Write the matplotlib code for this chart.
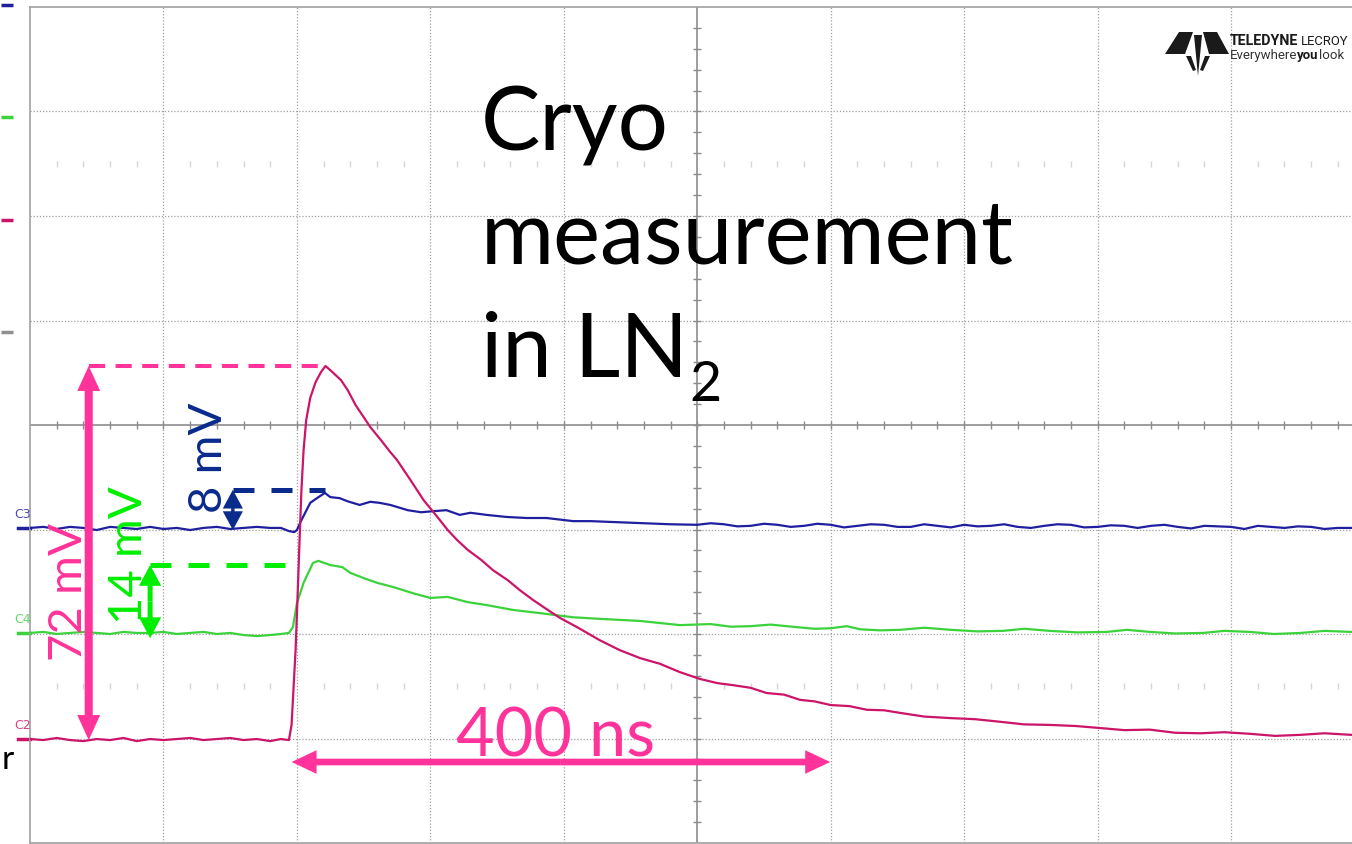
import numpy as np
import matplotlib
matplotlib.use('Agg')
import matplotlib.pyplot as plt
from matplotlib.patches import FancyArrowPatch, Polygon

plt.rcParams['font.family'] = ['Lato', 'DejaVu Sans']

# Scope screen: 100 ns/div, 20 mV/div, centre of screen = (0 ns, 0 mV)
t_left, t_right = -500, 490.6
v_min, v_max = -80, 80
t_grid = [-400, -300, -200, -100, 100, 200, 300, 400]
v_grid = [-60, -40, -20, 20, 40, 60]

# C3 (blue) trace, (ns, mV)
c3 = [(-500, -19.7), (-490, -19.5), (-480, -19.9), (-470, -19.5), (-460, -19.7),
      (-450, -20.1), (-440, -19.5), (-430, -19.7), (-420, -19.9), (-410, -19.5),
      (-400, -19.9), (-390, -19.7), (-380, -20.1), (-370, -19.7), (-360, -19.5),
      (-350, -19.9), (-340, -19.7), (-330, -19.5), (-320, -19.7), (-312, -19.7),
      (-306, -20.3), (-302, -20.5), (-300, -20.1), (-297, -18.4), (-290, -14.9),
      (-285, -14.0), (-279, -13.0), (-275, -13.8), (-268, -14.0), (-262, -14.6),
      (-253, -15.3), (-245, -14.7), (-238, -14.9), (-230, -15.3), (-217, -16.3),
      (-207, -16.7), (-198, -16.5), (-188, -16.3), (-178, -17.2), (-170, -16.8),
      (-158, -17.2), (-143, -17.6), (-128, -17.8), (-113, -17.8), (-93, -18.4),
      (-80, -18.4), (-60, -18.6), (-40, -18.8), (-20, -19.0), (0, -19.1),
      (10, -18.8), (20, -19.0), (30, -19.4), (40, -19.3), (50, -18.9),
      (60, -19.1), (70, -19.5), (80, -19.3), (90, -18.9), (100, -19.1),
      (110, -19.6), (120, -19.3), (130, -19.0), (140, -19.1), (150, -19.5),
      (160, -19.5), (170, -19.0), (180, -19.3), (190, -19.6), (200, -19.1),
      (210, -19.4), (220, -19.3), (230, -19.0), (240, -19.5), (250, -19.7),
      (260, -19.3), (270, -19.0), (280, -19.1), (290, -19.6), (300, -19.5),
      (310, -19.2), (320, -19.3), (330, -19.7), (340, -19.3), (350, -19.1),
      (360, -19.5), (370, -19.8), (380, -19.3), (390, -19.4), (400, -19.5),
      (410, -19.9), (420, -19.3), (430, -19.5), (440, -19.7), (450, -19.4),
      (460, -19.5), (470, -19.9), (480, -19.7), (490, -19.7)]

# C4 (green) trace
c4 = [(-500, -39.8), (-490, -39.6), (-480, -40.0), (-470, -39.8), (-460, -39.6),
      (-450, -39.8), (-440, -40.0), (-430, -39.6), (-420, -39.8), (-410, -39.8),
      (-400, -39.6), (-390, -40.0), (-380, -39.8), (-370, -39.6), (-360, -40.0),
      (-350, -39.8), (-340, -40.2), (-330, -40.4), (-320, -40.2), (-312, -40.0),
      (-306, -39.8), (-303, -38.7), (-300, -34.1), (-295, -30.2), (-288, -26.4),
      (-284, -26.0), (-275, -26.8), (-266, -27.2), (-260, -28.3), (-250, -29.3),
      (-240, -30.2), (-228, -31.0), (-213, -32.2), (-200, -33.1), (-187, -32.9),
      (-172, -33.9), (-157, -34.5), (-138, -35.4), (-118, -36.0), (-93, -36.8),
      (-73, -37.1), (-43, -37.5), (-13, -38.3), (10, -38.1), (25, -38.6),
      (40, -38.5), (55, -38.2), (75, -38.7), (88, -39.0), (100, -38.9),
      (112, -38.5), (122, -39.1), (137, -39.3), (152, -39.2), (170, -38.8),
      (190, -39.2), (210, -39.5), (229, -39.4), (245, -39.0), (264, -39.4),
      (285, -39.7), (307, -39.6), (322, -39.2), (339, -39.6), (358, -39.9),
      (379, -39.8), (395, -39.4), (414, -39.6), (432, -40.0), (452, -39.8),
      (470, -39.4), (490, -39.6)]

# C2 (magenta) trace
c2 = [(-500, -60.1), (-490, -60.3), (-480, -59.9), (-470, -60.3), (-460, -60.5),
      (-450, -60.1), (-440, -60.3), (-430, -59.9), (-420, -60.5), (-410, -60.1),
      (-400, -60.3), (-390, -60.1), (-380, -59.9), (-370, -60.3), (-360, -60.1),
      (-350, -59.9), (-340, -60.3), (-330, -60.1), (-320, -60.5), (-312, -60.1),
      (-306, -60.3), (-304, -57.4), (-302.6, -50.7), (-301, -43.1), (-299.6, -33.5),
      (-298, -22.0), (-296.6, -12.4), (-295, -4.8), (-293, 1.0), (-290, 5.2),
      (-286, 8.2), (-282, 10.1), (-278.6, 11.3), (-275, 10.5), (-267, 8.6),
      (-262, 6.7), (-256, 3.8), (-251, 1.9), (-245, -0.4), (-237, -2.9),
      (-230, -5.2), (-225, -6.7), (-215, -10.5), (-205, -14.4), (-196, -17.2),
      (-187, -20.1), (-180, -22.0), (-172, -23.9), (-162, -25.8), (-153, -27.8),
      (-142, -29.7), (-133, -31.6), (-123, -33.5), (-112, -35.4), (-103, -36.9),
      (-90, -38.7), (-73, -41.2), (-58, -43.1), (-43, -44.6), (-28, -45.7),
      (-13, -47.3), (2, -48.6), (15, -49.4), (27, -49.8), (40, -50.3),
      (52, -51.3), (65, -51.6), (77, -52.6), (88, -52.9), (100, -53.6),
      (114, -53.8), (127, -54.5), (140, -54.6), (152, -55.1), (170, -55.8),
      (190, -56.1), (208, -56.3), (227, -56.8), (245, -57.3), (264, -57.4),
      (283, -57.6), (302, -58.0), (320, -58.4), (339, -58.3), (358, -58.9),
      (377, -59.0), (395, -58.8), (414, -59.1), (433, -59.5), (452, -59.3),
      (470, -59.0), (490, -59.3)]

# annotations: (arrow time, base mV, peak mV, dash end time)
amp_c2 = (-456, -60.3, 11.3, -279)
amp_c4 = (-410, -40.8, -26.8, -296)
amp_c3 = (-348, -20.1, -12.4, -279)
width_arrow = (-304, 99.6, -64.5)

col_c3, col_c4, col_c2 = '#1f1fa0', '#3cd23c', '#cc1468'
pink, lime, navy = '#ff3399', '#00ee00', '#0a2a8c'
grid_col = '#a0a0a0'

fig = plt.figure(figsize=(13.52, 8.44), dpi=100)
ax = fig.add_axes([30 / 1352, 1 / 844, 1322 / 1352, 836 / 844])
ax.set_xlim(t_left, t_right)
ax.set_ylim(v_min, v_max)
ax.set_xticks([])
ax.set_yticks([])
for s in ['left', 'top', 'bottom']:
    ax.spines[s].set_color(grid_col)
    ax.spines[s].set_linewidth(1.2)
ax.spines['right'].set_visible(False)

# graticule
for t in t_grid:
    ax.axvline(t, color=grid_col, lw=0.9, ls=(0, (1, 1.5)), zorder=0)
for v in v_grid:
    ax.axhline(v, color=grid_col, lw=0.9, ls=(0, (1, 1.5)), zorder=0)
ax.axhline(0, color='#8c8c8c', lw=1.2, zorder=0)
ax.axvline(0, color='#8c8c8c', lw=1.2, zorder=0)
tt = np.arange(-480, 490, 20)
ax.vlines(tt, -0.8, 0.8, color='#8c8c8c', lw=1.0, zorder=0)
vv = np.arange(-76, 80, 4)
ax.hlines(vv, -3, 3, color='#8c8c8c', lw=1.0, zorder=0)
faint = [t for t in tt if t % 100 != 0]
for v in (50, -50):
    ax.vlines(faint, v - 0.6, v + 0.6, color='#d6d6d6', lw=1.0, zorder=0)

# traces
for data, col in [(c3, col_c3), (c4, col_c4), (c2, col_c2)]:
    d = np.array(data)
    ax.plot(d[:, 0], d[:, 1], color=col, lw=1.6, zorder=3)

# channel markers left of the screen
for lab, data, col in [('C3', c3, col_c3), ('C4', c4, col_c4), ('C2', c2, col_c2)]:
    base = data[0][1]
    ax.plot([-509, -500], [base, base], color=col, lw=2.5, clip_on=False)
    ax.text(-512, base + 1.3, lab, color=col, fontsize=9, family='DejaVu Sans',
            ha='left', va='bottom', clip_on=False, alpha=0.8)
for v, col in [(80.4, col_c3), (58.9, col_c4), (39.2, col_c2), (17.8, '#909090')]:
    ax.plot([-522, -513], [v, v], color=col, lw=2.5, clip_on=False, solid_capstyle='butt')
ax.text(-521, -65.8, 'r', fontsize=24, color='black', ha='left', va='baseline', clip_on=False)


def double_arrow(p0, p1, color, shaft, head_w, head_l):
    mid = ((p0[0] + p1[0]) / 2, (p0[1] + p1[1]) / 2)
    for end in (p0, p1):
        ax.add_patch(FancyArrowPatch(
            mid, end, mutation_scale=1, shrinkA=0, shrinkB=0, lw=0, color=color,
            arrowstyle=f'simple,head_length={head_l},head_width={head_w},tail_width={shaft}',
            zorder=5))


# 72 mV
t0, vb, vp, te = amp_c2
double_arrow((t0, vb), (t0, vp), pink, 5.8, 16.5, 18)
ax.plot([t0, te], [vp, vp], color=pink, lw=2.9, ls=(0, (4, 2.6)), zorder=4)
ax.text(-471, -32.0, '72 mV', color=pink, fontsize=34, rotation=90, ha='center', va='center')

# 14 mV
t0, vb, vp, te = amp_c4
double_arrow((t0, vb), (t0, vp), lime, 3.6, 16, 15)
ax.plot([t0, te], [vp, vp], color=lime, lw=3.6, ls=(0, (4.2, 3.4)), zorder=4)
ax.text(-426, -24.9, '14 mV', color=lime, fontsize=34, rotation=90, ha='center', va='center')

# 8 mV
t0, vb, vp, te = amp_c3
double_arrow((t0, vb), (t0, vp), navy, 2.5, 14.5, 13.5)
ax.plot([t0, te], [vp, vp], color=navy, lw=3.6, ls=(0, (4.2, 3.4)), zorder=4)
ax.text(-366, -6.3, '8 mV', color=navy, fontsize=34, rotation=90, ha='center', va='center')

# 400 ns
ta, tb, vw = width_arrow
double_arrow((ta, vw), (tb, vw), pink, 4.8, 17, 18)
ax.text(-106, -63.5, '400 ns', color=pink, fontsize=48, ha='center', va='baseline', zorder=6)

# title text
ax.text(-162, 52.6, 'Cryo', fontsize=64, ha='left', va='baseline', color='black')
ax.text(-162, 31.0, 'measurement', fontsize=64, ha='left', va='baseline', color='black')
t_in = ax.text(-162, 9.2, 'in LN', fontsize=64, ha='left', va='baseline', color='black')
ax.annotate('2', xy=(1, 4.6), xycoords=(t_in, 'data'), xytext=(1, 0),
            textcoords='offset points', fontsize=40, ha='left', va='baseline', color='black')

# Teledyne LeCroy logo
lax = fig.add_axes([1160 / 1352, (844 - 80) / 844, 192 / 1352, 55 / 844])
lax.set_xlim(1160, 1352)
lax.set_ylim(80, 25)
lax.axis('off')
for poly in [[(1179, 32), (1193, 32), (1185, 54), (1165, 54)],
             [(1194, 35), (1202, 35), (1198, 76)],
             [(1203, 32), (1217, 32), (1229, 54), (1209, 54)],
             [(1186, 56), (1191, 56), (1196, 70), (1193, 71)],
             [(1205, 56), (1210, 56), (1203, 71), (1200, 70)]]:
    lax.add_patch(Polygon(poly, closed=True, color='#1a1a1a', lw=0))
t1 = lax.text(1230, 45, 'TELEDYNE', fontsize=10.2, fontweight='bold', family='Roboto',
              ha='left', va='baseline', color='#1a1a1a')
lax.annotate('LECROY', xy=(1, 45), xycoords=(t1, 'data'), xytext=(2, 0),
             textcoords='offset points', fontsize=9.4, family='Roboto',
             ha='left', va='baseline', color='#1a1a1a')
t2 = lax.text(1230, 59, 'Everywhere', fontsize=9.5, family='Roboto',
              ha='left', va='baseline', color='#333333')
t3 = lax.annotate('you', xy=(1, 59), xycoords=(t2, 'data'), fontsize=9.5, fontweight='bold',
                  family='Roboto', ha='left', va='baseline', color='#1a1a1a')
lax.annotate('look', xy=(1, 59), xycoords=(t3, 'data'), fontsize=9.5, family='Roboto',
             ha='left', va='baseline', color='#333333')

fig.savefig('out.png', dpi=100)
